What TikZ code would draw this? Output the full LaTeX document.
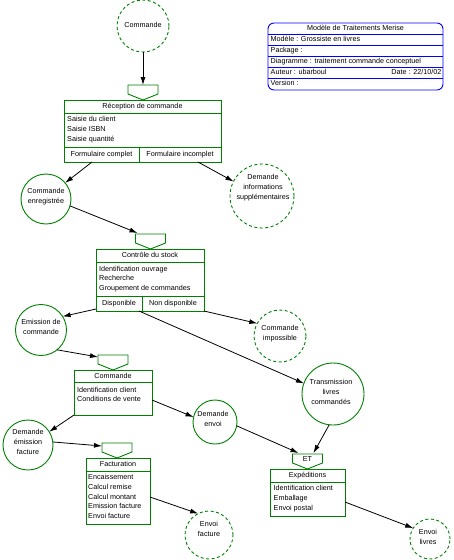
\documentclass[tikz,border=0pt]{standalone}
\usepackage{fontspec}
\setmainfont{Liberation Sans}
\usetikzlibrary{calc,arrows.meta}
\definecolor{mgreen}{RGB}{0,128,0}
\definecolor{mblue}{RGB}{0,0,255}
\newcommand{\mtsync}[1]{\draw[gline] (#1.north west) -- (#1.north east) -- ($(#1.north east)+(0,9)$) -- (#1.south) -- ($(#1.north west)+(0,9)$) -- cycle;}
\begin{document}
\begin{tikzpicture}[x=1pt,y=-1pt,
  every node/.style={font=\fontsize{7.2}{10}\selectfont},
  evt/.style={circle, draw=mgreen, line width=0.9pt, inner sep=0pt, outer sep=0pt},
  dsh/.style={dash pattern=on 3pt off 2.5pt},
  evtxt/.style={align=center, inner sep=0pt},
  box/.style={rectangle, draw=mgreen, line width=0.9pt, inner sep=0pt, outer sep=0pt, anchor=north west},
  gline/.style={draw=mgreen, line width=0.9pt},
  bline/.style={draw=mblue, line width=0.9pt},
  sync/.style={rectangle, inner sep=0pt, outer sep=0pt, minimum width=30pt, minimum height=15pt},
  txt/.style={inner sep=0pt, text height=5.5pt, text depth=1.5pt},
  flow/.style={draw=black, line width=0.8pt, -{Latex[length=8pt,width=5pt]}},
]
\useasboundingbox (0,0) rectangle (454,560);

% ---------- title block ----------
\node[rectangle, draw=mblue, line width=0.9pt, rounded corners=6pt, minimum width=175pt, minimum height=67pt, anchor=north west, inner sep=0pt, outer sep=0pt] (tb) at (268,23) {};
\foreach \k in {11,22,33,44,55}
  \draw[bline] ($(tb.north west)+(0,\k)$) -- ($(tb.north east)+(0,\k)$);
\node[txt] (tb-t) at ($(tb.north)+(0,5.5)$) {Modèle de Traitements Merise};
\node[txt, anchor=west] (tb-1) at ($(tb.north west)+(2.5,16.5)$) {Modèle : Grossiste en livres};
\node[txt, anchor=west] (tb-2) at ($(tb.north west)+(2.5,27.5)$) {Package :};
\node[txt, anchor=west] (tb-3) at ($(tb.north west)+(2.5,38.5)$) {Diagramme : traitement commande conceptuel};
\node[txt, anchor=west] (tb-4) at ($(tb.north west)+(2.5,49.5)$) {Auteur : ubarboul};
\node[txt, anchor=east] (tb-5) at ($(tb.north east)+(-1.5,49.5)$) {Date : 22/10/02};
\node[txt, anchor=west] (tb-6) at ($(tb.north west)+(2.5,60.5)$) {Version :};

% ---------- events ----------
\node[evt, dsh, minimum size=52pt] (c1) at (143,26) {};
\node[evtxt] (c1-t) at (143,25) {Commande};
\node[evt, minimum size=50pt] (ce) at (46,199) {};
\node[evtxt] (ce-t) at (46,197) {Commande\\enregistrée};
\node[evt, dsh, minimum size=64pt] (di) at (262,196) {};
\node[evtxt] (di-t) at (263,188) {Demande\\informations\\supplémentaires};
\node[evt, minimum size=51pt] (em) at (41,330) {};
\node[evtxt] (em-t) at (41,327) {Emission de\\commande};
\node[evt, dsh, minimum size=52pt] (ci) at (280,336) {};
\node[evtxt] (ci-t) at (280,334) {Commande\\impossible};
\node[evt, minimum size=62pt] (tr) at (333,394) {};
\node[evtxt] (tr-t) at (331,392) {Transmission\\livres\\commandés};
\node[evt, minimum size=50pt] (de) at (28,445) {};
\node[evtxt] (de-t) at (28,442) {Demande\\émission\\facture};
\node[evt, minimum size=44pt] (dv) at (215,422) {};
\node[evtxt] (dv-t) at (213,419) {Demande\\envoi};
\node[evt, dsh, minimum size=48pt] (ef) at (209,535) {};
\node[evtxt] (ef-t) at (209,529) {Envoi\\facture};
\node[evt, dsh, minimum size=40pt] (el) at (430,539) {};
\node[evtxt] (el-t) at (428,537) {Envoi\\livres};

% ---------- synchronisations ----------
\node[sync] (p1) at (143,92.5) {};   \mtsync{p1}
\node[sync] (p2) at (150.5,241.5) {}; \mtsync{p2}
\node[sync] (p3) at (113,362.5) {};  \mtsync{p3}
\node[sync] (p4) at (117,450.5) {};  \mtsync{p4}
\node[sync] (p5) at (307.5,461.5) {}; \mtsync{p5}
\node[txt] (p5-t) at (307.5,459) {ET};

% ---------- Réception de commande ----------
\node[box, minimum width=157pt, minimum height=62pt] (rec) at (64,100) {};
\draw[gline] ($(rec.north west)+(0,13)$) -- ($(rec.north east)+(0,13)$);
\draw[gline] ($(rec.south west)+(0,-15)$) -- ($(rec.south east)+(0,-15)$);
\draw[gline] ($(rec.south west)+(75,0)$) -- ($(rec.south west)+(75,-15)$);
\node[txt] (rec-t) at ($(rec.north)+(0,6.5)$) {Réception de commande};
\foreach \t [count=\i from 0] in {Saisie du client, Saisie ISBN, Saisie quantité}
  \node[txt, anchor=west] (rec-l\i) at ($(rec.north west)+(3,19+10*\i)$) {\t};
\node[txt] (rec-b1) at ($(rec.south west)+(37.5,-7.5)$) {Formulaire complet};
\node[txt] (rec-b2) at ($(rec.south east)+(-41,-7.5)$) {Formulaire incomplet};

% ---------- Contrôle du stock ----------
\node[box, minimum width=108pt, minimum height=62pt] (cs) at (96,249) {};
\draw[gline] ($(cs.north west)+(0,13)$) -- ($(cs.north east)+(0,13)$);
\draw[gline] ($(cs.south west)+(0,-15)$) -- ($(cs.south east)+(0,-15)$);
\draw[gline] ($(cs.south west)+(46,0)$) -- ($(cs.south west)+(46,-15)$);
\node[txt] (cs-t) at ($(cs.north)+(0,6.5)$) {Contrôle du stock};
\foreach \t [count=\i from 0] in {Identification ouvrage, Recherche, Groupement de commandes}
  \node[txt, anchor=west] (cs-l\i) at ($(cs.north west)+(3,20+9.5*\i)$) {\t};
\node[txt] (cs-b1) at ($(cs.south west)+(23,-7.5)$) {Disponible};
\node[txt] (cs-b2) at ($(cs.south east)+(-31,-7.5)$) {Non disponible};

% ---------- Commande ----------
\node[box, minimum width=78pt, minimum height=45pt] (cmd) at (74,370) {};
\draw[gline] ($(cmd.north west)+(0,12)$) -- ($(cmd.north east)+(0,12)$);
\node[txt] (cmd-t) at ($(cmd.north)+(0,6)$) {Commande};
\foreach \t [count=\i from 0] in {Identification client, Conditions de vente}
  \node[txt, anchor=west] (cmd-l\i) at ($(cmd.north west)+(3,20+9.5*\i)$) {\t};

% ---------- Facturation ----------
\node[box, minimum width=64pt, minimum height=66pt] (fac) at (86,458) {};
\draw[gline] ($(fac.north west)+(0,13)$) -- ($(fac.north east)+(0,13)$);
\node[txt] (fac-t) at ($(fac.north)+(0,6.5)$) {Facturation};
\foreach \t [count=\i from 0] in {Encaissement, Calcul remise, Calcul montant, Emission facture, Envoi facture}
  \node[txt, anchor=west] (fac-l\i) at ($(fac.north west)+(2,19.5+9.8*\i)$) {\t};

% ---------- Expéditions ----------
\node[box, minimum width=75pt, minimum height=47pt] (exp) at (270,469) {};
\draw[gline] ($(exp.north west)+(0,13)$) -- ($(exp.north east)+(0,13)$);
\node[txt] (exp-t) at ($(exp.north)+(0,6.5)$) {Expéditions};
\foreach \t [count=\i from 0] in {Identification client, Emballage, Envoi postal}
  \node[txt, anchor=west] (exp-l\i) at ($(exp.north west)+(3.5,19.7+10*\i)$) {\t};

% ---------- flows ----------
\draw[flow] (c1.south) -- (p1.north);
\draw[flow] ($(rec.south west)+(28,0)$) -- (ce.40);
\draw[flow] ($(rec.south west)+(134,0)$) -- (di.153);
\draw[flow] (ce.-16) -- ($(p2.north west)+(2,-1)$);
\draw[flow] ($(cs.south west)+(0,-2)$) -- (em.32);
\draw[flow] (cs.south east) -- (ci.151);
\draw[flow] ($(cs.south west)+(43,0)$) -- (tr.160);
\draw[flow] (em.-51) -- ($(p3.north west)+(0,2)$);
\draw[flow] (cmd.south west) -- (de.32);
\draw[flow] ($(cmd.north east)+(0,30)$) -- (dv.167);
\draw[flow] (de.7) -- ($(p4.north west)+(0,3)$);
\draw[flow] ($(fac.north east)+(0,39)$) -- (ef.117);
\draw[flow] (dv.-10) -- ($(p5.north west)+(6,-1)$);
\draw[flow] (tr.-97) -- ($(p5.north west)+(21,-1)$);
\draw[flow] ($(exp.north east)+(0,33)$) -- (el.147);
\end{tikzpicture}
\end{document}
